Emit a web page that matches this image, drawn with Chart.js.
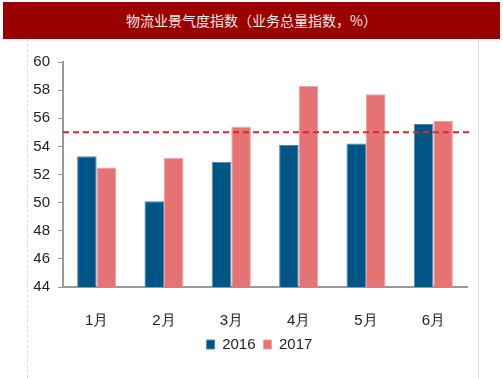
<!DOCTYPE html>
<html>
<head>
<meta charset="utf-8">
<script src="https://cdn.jsdelivr.net/npm/chart.js@4/dist/chart.umd.min.js"></script>
<style>
  html, body { margin: 0; padding: 0; background: #fff; }
  #wrap { position: relative; width: 503px; height: 378px; overflow: hidden; }
  #title {
    position: absolute; left: 3px; top: 2px; width: 497px; height: 37px;
    background: #9b0000; color: #f4eaea;
    font: 14px "Noto Sans CJK SC", sans-serif;
    line-height: 37px; text-align: center;
  }
  #frame {
    position: absolute; left: 27px; top: 39px; width: 450px; height: 339px;
    border-left: 1px dashed #ddd; border-right: 1px solid #e4e4e4;
  }
  #chart { position: absolute; left: 0; top: 0; }
</style>
</head>
<body>
<div id="wrap">
  <div id="frame"></div>
  <canvas id="chart" width="503" height="378"></canvas>
  <div id="title">物流业景气度指数（业务总量指数，%）</div>
</div>
<script>
const months = ["1月", "2月", "3月", "4月", "5月", "6月"];
const values2016 = [53.3, 50.1, 52.9, 54.1, 54.2, 55.6];
const values2017 = [52.5, 53.2, 55.4, 58.3, 57.7, 55.8];
const referenceLevel = 55;

const labelFont = { family: "Liberation Sans, Arial, sans-serif", size: 15 };

// dashed red reference line across the plot
const refLine = {
    id: "refLine",
    afterDatasetsDraw(chart) {
        const ctx = chart.ctx;
        const y = chart.scales.y.getPixelForValue(referenceLevel);
        ctx.save();
        ctx.strokeStyle = "#d9262c";
        ctx.lineWidth = 2;
        ctx.setLineDash([6, 4]);
        ctx.beginPath();
        ctx.moveTo(chart.chartArea.left, y);
        ctx.lineTo(chart.chartArea.right + 6, y);
        ctx.stroke();
        ctx.restore();
    }
};

// legend sits a bit right of the plot centre in the original
const legendShift = {
    id: "legendShift",
    afterLayout(chart) {
        const lg = chart.legend;
        lg.left += 16;
        lg.right += 16;
        lg.adjustHitBoxes();
    }
};

new Chart(document.getElementById("chart"), {
    type: "bar",
    data: {
        labels: months,
        datasets: [{
            label: "2016",
            data: values2016,
            backgroundColor: "#005587",
            borderColor: "#4d88b0",
            borderWidth: 1,
            barPercentage: 1,
            categoryPercentage: 0.58
        }, {
            label: "2017",
            data: values2017,
            backgroundColor: "#e57373",
            borderColor: "#efa0a0",
            borderWidth: 1,
            barPercentage: 1,
            categoryPercentage: 0.58
        }]
    },
    options: {
        responsive: false,
        animation: false,
        layout: { padding: { top: 62, left: 20, right: 36, bottom: 16 } },
        scales: {
            x: {
                grid: { display: false, drawOnChartArea: false, tickLength: 5, offset: true, color: "#999" },
                border: { color: "#999", width: 2 },
                ticks: { color: "#222", font: labelFont, padding: 20 },
                afterFit(scale) { scale.height = 42; }
            },
            y: {
                min: 44,
                max: 60,
                ticks: { stepSize: 2, color: "#222", font: labelFont, padding: 8 },
                grid: { drawOnChartArea: false, tickLength: 5, color: "#999" },
                border: { color: "#999", width: 2 },
                afterFit(scale) { scale.width = 43; }
            }
        },
        plugins: {
            legend: {
                position: "bottom",
                labels: { color: "#222", font: labelFont, boxWidth: 8, boxHeight: 9, padding: 8 }
            },
            tooltip: { enabled: false }
        }
    },
    plugins: [refLine, legendShift]
});
</script>
</body>
</html>
